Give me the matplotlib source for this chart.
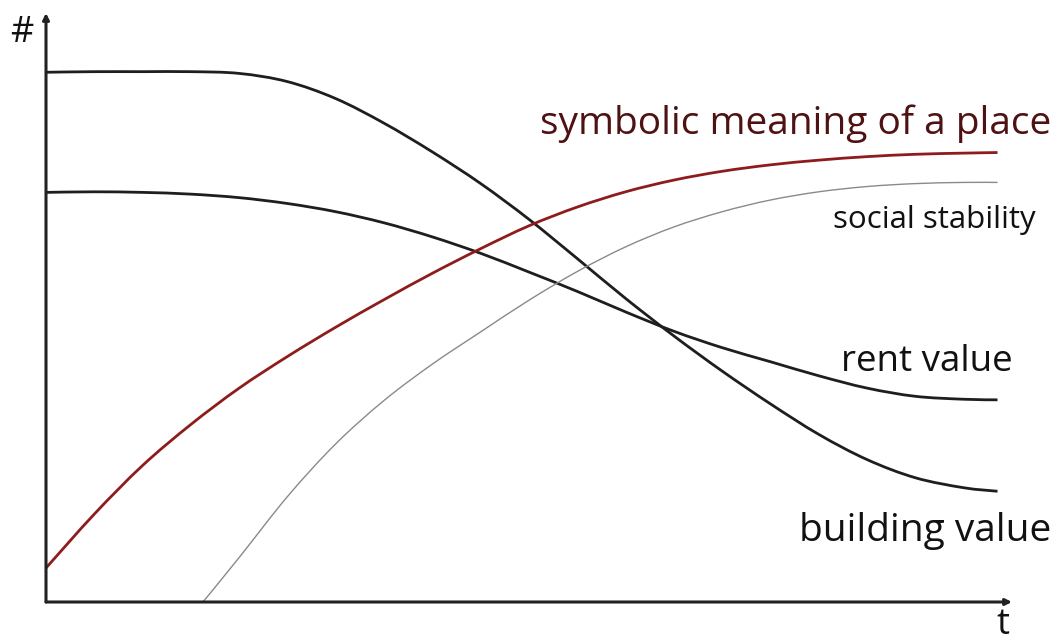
import numpy as np
import matplotlib
matplotlib.use('Agg')
import matplotlib.pyplot as plt
from matplotlib.path import Path
from matplotlib.patches import PathPatch

plt.rcParams['font.family'] = ['Open Sans', 'DejaVu Sans']

# time axis (arbitrary units, 0..100 across the t axis)
t = [0, 5, 10, 15, 20, 25, 30, 35, 40, 45, 50, 55, 60, 65, 70, 75, 80, 85, 90, 95, 98.5]

building_value = [90.4, 90.5, 90.5, 90.5, 90.2, 88.8, 85.9, 81.7, 76.8, 71.4, 65.3,
                  58.6, 51.8, 45.4, 39.4, 33.8, 28.6, 24.3, 21.2, 19.5, 18.9]
rent_value = [69.9, 70.0, 69.9, 69.6, 69.0, 68.0, 66.6, 64.7, 62.3, 59.5, 56.3,
              53.0, 49.5, 46.2, 43.4, 41.0, 38.6, 36.5, 35.1, 34.6, 34.5]
symbolic_meaning = [5.8, 15.0, 23.3, 30.3, 36.5, 41.9, 46.9, 51.6, 56.1, 60.3, 64.2,
                    67.4, 70.0, 72.0, 73.5, 74.6, 75.4, 76.0, 76.4, 76.6, 76.7]

t_social = [16.25, 20, 25, 30, 35, 40, 45, 50, 55, 60, 65, 70, 75, 80, 85, 90, 95, 98.5]
social_stability = [0.0, 7.6, 18.0, 27.0, 34.4, 40.6, 46.1, 51.5, 56.4, 60.6, 64.0,
                    66.6, 68.6, 70.0, 70.9, 71.4, 71.6, 71.6]


def smooth_path(xs, ys):
    # catmull-rom through the read points, handed to matplotlib as bezier segments
    pts = np.column_stack([xs, ys]).astype(float)
    verts = [pts[0]]
    codes = [Path.MOVETO]
    n = len(pts)
    for i in range(n - 1):
        p0 = pts[i - 1] if i > 0 else pts[i]
        p1 = pts[i]
        p2 = pts[i + 1]
        p3 = pts[i + 2] if i + 2 < n else pts[i + 1]
        verts += [p1 + (p2 - p0) / 6, p2 - (p3 - p1) / 6, p2]
        codes += [Path.CURVE4] * 3
    return Path(verts, codes)


fig = plt.figure(figsize=(10.59, 6.43), dpi=100)
ax = fig.add_axes([46 / 1059, 41 / 643, 966 / 1059, 589 / 643])
ax.set_xlim(0, 100)
ax.set_ylim(0, 100 * 589 / 586)
ax.axis('off')

lines = [
    (t, building_value, '#1e1e1e', 2.0),
    (t, rent_value, '#1e1e1e', 2.0),
    (t, symbolic_meaning, '#8e1c1c', 2.0),
    (t_social, social_stability, '#8a8a8a', 1.0),
]
for xs, ys, col, lw in lines:
    ax.add_patch(PathPatch(smooth_path(xs, ys), facecolor='none',
                           edgecolor=col, lw=lw, capstyle='butt'))

# axes with arrow heads
arrow = dict(arrowstyle='-|>', color='#222222', lw=2.2, mutation_scale=9,
             shrinkA=0, shrinkB=0)
ax.annotate('', xy=(1, 0), xytext=(0, 0), xycoords='axes fraction',
            arrowprops=arrow)
ax.annotate('', xy=(0, 1), xytext=(0, 0), xycoords='axes fraction',
            arrowprops=arrow)

ax.text(104.1, 79.9, 'symbolic meaning of a place', ha='right', va='baseline',
        fontsize=28, color='#4f1212', clip_on=False)
ax.text(102.4, 63.9, 'social stability', ha='right', va='baseline',
        fontsize=22.5, color='#111111', clip_on=False)
ax.text(100.1, 39.4, 'rent value', ha='right', va='baseline',
        fontsize=26.5, color='#111111', clip_on=False)
ax.text(104.1, 10.4, 'building value', ha='right', va='baseline',
        fontsize=28, color='#111111', clip_on=False)

fig.text(22 / 1059, 1 - 42 / 643, '#', ha='center', va='baseline',
         fontsize=26, color='#111111')
fig.text(1003 / 1059, 1 - 634 / 643, 't', ha='center', va='baseline',
         fontsize=26, color='#111111')

fig.savefig('out.png', dpi=100, facecolor='white')
